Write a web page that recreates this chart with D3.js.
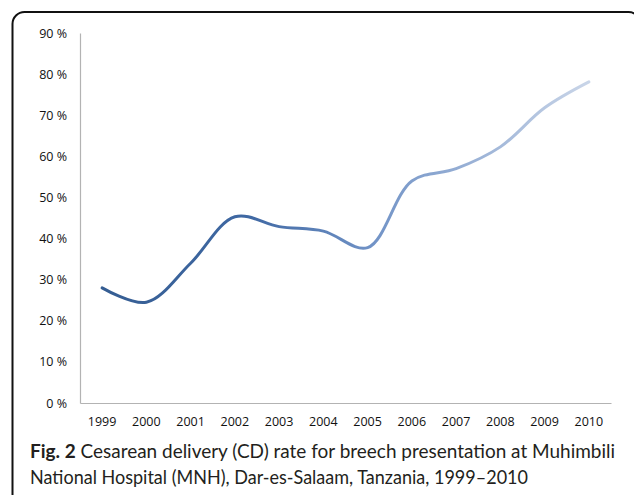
<!DOCTYPE html>
<html><head><meta charset="utf-8">
<script src="https://cdn.jsdelivr.net/npm/d3@7"></script>
<style>body{margin:0;background:#fff}svg{display:block}</style>
</head><body>
<svg id="c" width="634" height="495"></svg>
<script>
const years = ["1999","2000","2001","2002","2003","2004","2005","2006","2007","2008","2009","2010"];
const rates = [28.0, 24.5, 34.0, 45.3, 42.9, 41.8, 37.8, 54.0, 57.0, 62.3, 71.8, 78.1];
const yTicks = [0,10,20,30,40,50,60,70,80,90];
const captionBold = "Fig. 2";
const captionLine1 = " Cesarean delivery (CD) rate for breech presentation at Muhimbili";
const captionLine2 = "National Hospital (MNH), Dar-es-Salaam, Tanzania, 1999\u20132010";

const svg = d3.select("#c");
const m = {l:80, r:611, t:33, b:403};

svg.append("rect").attr("x",12.5).attr("y",12).attr("width",628).attr("height",530)
  .attr("rx",12).attr("fill","none").attr("stroke","#111").attr("stroke-width",2);

const x = d3.scaleBand().domain(years).range([m.l, m.r]);
const y = d3.scaleLinear().domain([0,90]).range([m.b, m.t]);

const font = "'Open Sans', 'Liberation Sans', sans-serif";

// axes
const ya = svg.append("g").attr("transform",`translate(${m.l},0)`)
  .call(d3.axisLeft(y).tickValues(yTicks).tickSize(0).tickPadding(13).tickFormat(d=>d+" %"));
ya.select(".domain").attr("stroke","#b3b3b3").attr("stroke-width",1.2);
ya.selectAll("text").attr("font-family",font).attr("font-size",12.5).attr("fill","#111");

const xa = svg.append("g").attr("transform",`translate(0,${m.b})`)
  .call(d3.axisBottom(x).tickSize(0).tickPadding(14));
xa.select(".domain").attr("stroke","#b3b3b3").attr("stroke-width",1.2);
xa.selectAll("text").attr("font-family",font).attr("font-size",12.5).attr("fill","#111");

// gradient
const defs = svg.append("defs");
const g = defs.append("linearGradient").attr("id","lg").attr("gradientUnits","userSpaceOnUse")
  .attr("x1", x(years[0])+x.bandwidth()/2).attr("x2", x(years[years.length-1])+x.bandwidth()/2)
  .attr("y1",0).attr("y2",0);
g.append("stop").attr("offset","0%").attr("stop-color","#355d92");
g.append("stop").attr("offset","30%").attr("stop-color","#3f68a3");
g.append("stop").attr("offset","55%").attr("stop-color","#7092c6");
g.append("stop").attr("offset","100%").attr("stop-color","#c9d5e8");

const line = d3.line()
  .x((d,i)=>x(years[i])+x.bandwidth()/2)
  .y(d=>y(d))
  .curve(d3.curveCatmullRom.alpha(0.5));
svg.append("path").datum(rates).attr("d",line)
  .attr("fill","none").attr("stroke","url(#lg)").attr("stroke-width",3).attr("stroke-linecap","round");

// caption
const cf = "Lato, 'Open Sans', sans-serif";
const t1 = svg.append("text").attr("x",30).attr("y",458).attr("font-family",cf).attr("font-size",18.5).attr("fill","#231f20");
t1.append("tspan").attr("font-weight","bold").text(captionBold);
t1.append("tspan").text(captionLine1);
t1.attr("textLength",585).attr("lengthAdjust","spacingAndGlyphs");
svg.append("text").attr("x",30).attr("y",484).attr("font-family",cf).attr("font-size",18.5).attr("fill","#231f20")
  .attr("textLength",498).attr("lengthAdjust","spacingAndGlyphs").text(captionLine2);
</script>
</body></html>
